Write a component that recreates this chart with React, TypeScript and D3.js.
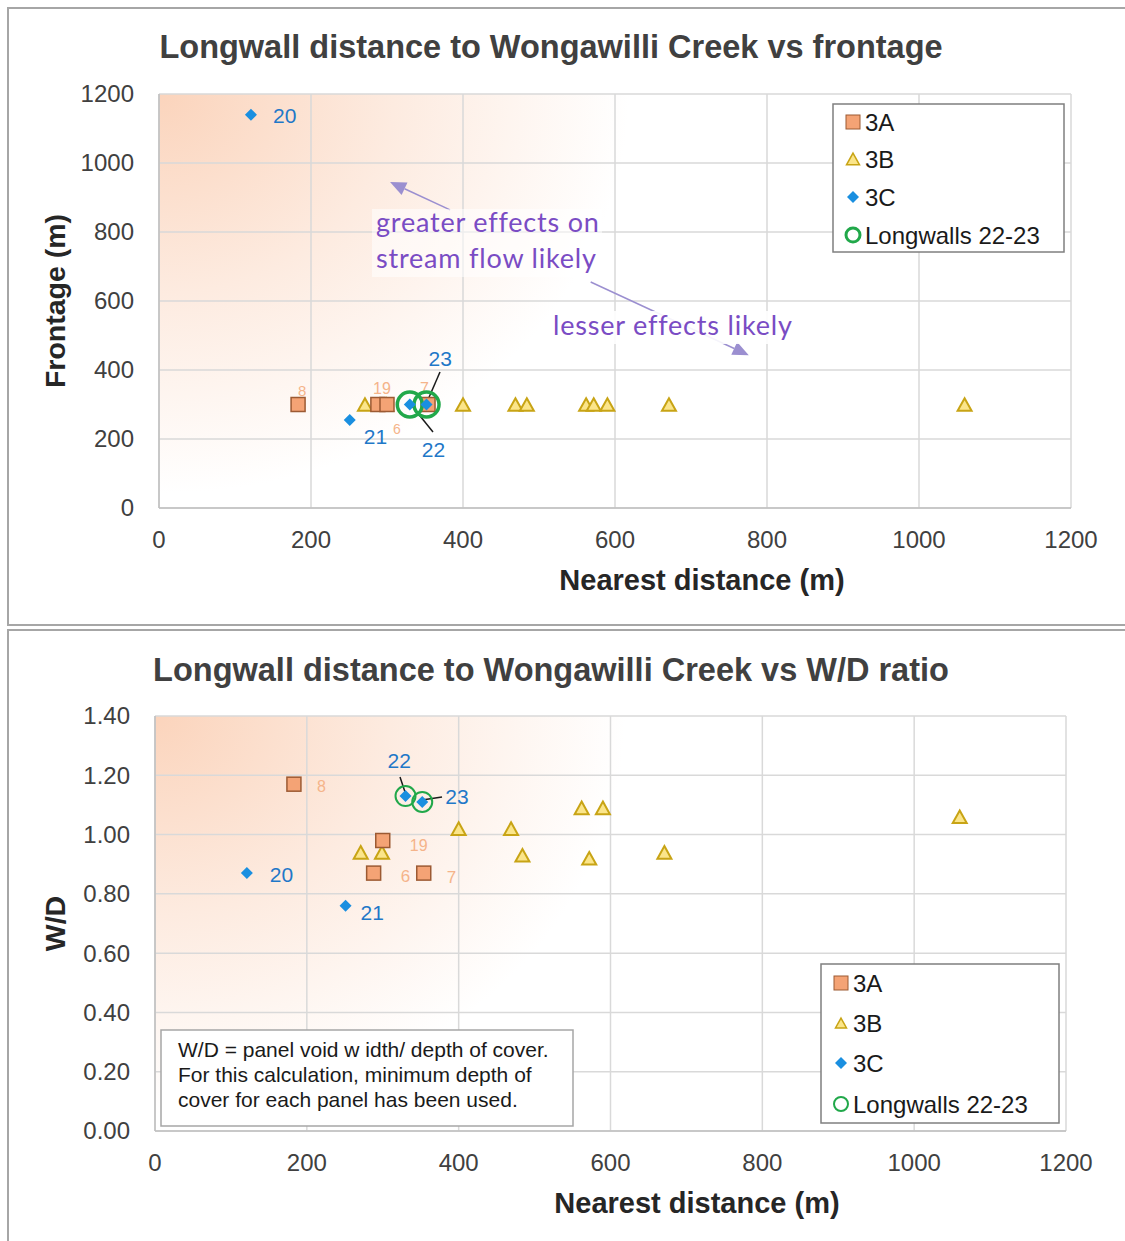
import * as d3 from "d3";

// ---- data ----
const ids3A = ["8", "6", "19", "7"];
const distance3A = [183, 288, 300, 354];
const frontage3A = [300, 300, 300, 300];
const wd3A = [1.17, 0.87, 0.98, 0.87];

const distance3B = [271, 299, 400, 469, 484, 562, 572, 590, 671, 1060];
const frontage3B = [300, 300, 300, 300, 300, 300, 300, 300, 300, 300];
const wd3B = [0.94, 0.94, 1.02, 1.02, 0.93, 1.09, 0.92, 1.09, 0.94, 1.06];

const ids3C = ["20", "21", "22", "23"];
const distance3C = [121, 251, 330, 352];
const frontage3C = [1140, 255, 300, 300];
const wd3C = [0.87, 0.76, 1.13, 1.11];

// longwalls 22-23 highlighted
const highlightIds = ["22", "23"];

const xTicks = [0, 200, 400, 600, 800, 1000, 1200];
const frontageTicks = [0, 200, 400, 600, 800, 1000, 1200];
const wdTicks = [0, 0.2, 0.4, 0.6, 0.8, 1.0, 1.2, 1.4];

const legendLabels = ["3A", "3B", "3C", "Longwalls 22-23"];
const noteLines = [
  "W/D = panel void w idth/ depth of cover.",
  "For this calculation, minimum depth of",
  "cover for each panel has been used.",
];

const C_3A_FILL = "#f4a375";
const C_3A_STROKE = "#9c5a33";
const C_3A_LABEL = "#f5b48a";
const C_3B_FILL = "#fbe58a";
const C_3B_STROKE = "#c8a415";
const C_3C = "#1a8fe0";
const C_3C_LABEL = "#1f78c8";
const C_RING = "#21a84a";
const PURPLE = "#7a4cc4";
const FONT = "'Liberation Sans', Arial, sans-serif";
const NOTE_FONT = "Lato, 'Open Sans', sans-serif";

type Label = { dx: number; dy: number; size?: number };

interface ChartProps {
  top: number;
  title: string;
  titleY: number;
  yTitle: string;
  xTitleX: number;
  plot: { left: number; right: number; top: number; bottom: number };
  yDomain: [number, number];
  yTicks: number[];
  yFormat: (v: number) => string;
  y3A: number[];
  y3B: number[];
  y3C: number[];
  labels3A: Label[];
  labels3C: Label[];
  leaders: { id: string; x1: number; y1: number; x2: number; y2: number }[];
  ringR: number;
  ringW: number;
  legend: { x: number; y: number; w: number; h: number; rowY: number[]; small: boolean };
  children?: (x: d3.ScaleLinear<number, number>, y: d3.ScaleLinear<number, number>) => any;
  gid: string;
}

function triangle(cx: number, cy: number, s: number) {
  const h = s * 0.9;
  return `M${cx},${cy - h / 2}L${cx + s / 2},${cy + h / 2}L${cx - s / 2},${cy + h / 2}Z`;
}

function diamond(cx: number, cy: number, r: number) {
  return `M${cx},${cy - r}L${cx + r},${cy}L${cx},${cy + r}L${cx - r},${cy}Z`;
}

function Chart(p: ChartProps) {
  const x = d3.scaleLinear().domain([0, 1200]).range([p.plot.left, p.plot.right]);
  const y = d3.scaleLinear().domain(p.yDomain).range([p.plot.bottom, p.plot.top]);
  const W = p.plot.right - p.plot.left;
  const H = p.plot.bottom - p.plot.top;
  const lg = p.legend;

  return (
    <g>
      <defs>
        <radialGradient id={p.gid} gradientUnits="userSpaceOnUse" cx={p.plot.left} cy={p.plot.top} r={470}
          gradientTransform={`translate(${p.plot.left},${p.plot.top}) scale(1,0.85) translate(${-p.plot.left},${-p.plot.top})`}>
          <stop offset="0" stopColor="#fbd4bc" />
          <stop offset="0.5" stopColor="#fdebe0" />
          <stop offset="1" stopColor="#ffffff" />
        </radialGradient>
      </defs>
      <rect x={p.plot.left} y={p.plot.top} width={W} height={H} fill={`url(#${p.gid})`} />

      {/* grid */}
      {p.yTicks.map((t) => (
        <line key={"h" + t} x1={p.plot.left} x2={p.plot.right} y1={y(t)} y2={y(t)} stroke="#d9d9d9" strokeWidth={1.5} />
      ))}
      {xTicks.map((t) => (
        <line key={"v" + t} x1={x(t)} x2={x(t)} y1={p.plot.top} y2={p.plot.bottom} stroke="#d9d9d9" strokeWidth={1.5} />
      ))}
      <line x1={p.plot.left} x2={p.plot.left} y1={p.plot.top} y2={p.plot.bottom} stroke="#bfbfbf" strokeWidth={1.5} />
      <line x1={p.plot.left} x2={p.plot.right} y1={p.plot.bottom} y2={p.plot.bottom} stroke="#bfbfbf" strokeWidth={1.5} />

      {/* tick labels */}
      {p.yTicks.map((t) => (
        <text key={"yl" + t} x={p.plot.left - 25} y={y(t)} dy="0.35em" textAnchor="end" fontSize={24} fill="#404040" fontFamily={FONT}>
          {p.yFormat(t)}
        </text>
      ))}
      {xTicks.map((t) => (
        <text key={"xl" + t} x={x(t)} y={p.plot.bottom + 32} dy="0.35em" textAnchor="middle" fontSize={24} fill="#404040" fontFamily={FONT}>
          {t}
        </text>
      ))}

      {/* titles */}
      <text x={551} y={p.titleY} textAnchor="middle" fontSize={32.5} fontWeight="bold" fill="#404040" fontFamily={FONT}>
        {p.title}
      </text>
      <text x={p.xTitleX} y={p.plot.bottom + 82} textAnchor="middle" fontSize={29} fontWeight="bold" fill="#262626" fontFamily={FONT}>
        Nearest distance (m)
      </text>
      <text transform={`translate(65,${(p.plot.top + p.plot.bottom) / 2}) rotate(-90)`} textAnchor="middle" fontSize={28.5} fontWeight="bold" fill="#262626" fontFamily={FONT}>
        {p.yTitle}
      </text>

      {p.children && p.children(x, y)}

      {/* leaders */}
      {p.leaders.map((l) => (
        <line key={"ld" + l.id} x1={l.x1} y1={l.y1} x2={l.x2} y2={l.y2} stroke="#1a1a1a" strokeWidth={1.5} />
      ))}

      {/* 3B */}
      {distance3B.map((d, i) => (
        <path key={"b" + i} d={triangle(x(d), y(p.y3B[i]), 14)} fill={C_3B_FILL} stroke={C_3B_STROKE} strokeWidth={2} />
      ))}
      {/* 3A */}
      {distance3A.map((d, i) => (
        <g key={"a" + i}>
          <rect x={x(d) - 7} y={y(p.y3A[i]) - 7} width={14} height={14} fill={C_3A_FILL} stroke={C_3A_STROKE} strokeWidth={1.5} />
          <text x={x(d) + p.labels3A[i].dx} y={y(p.y3A[i]) + p.labels3A[i].dy} fontSize={p.labels3A[i].size ?? 16} fill={C_3A_LABEL} fontFamily={FONT}>
            {ids3A[i]}
          </text>
        </g>
      ))}
      {/* rings for longwalls 22-23 */}
      {ids3C.map((id, i) =>
        highlightIds.includes(id) ? (
          <circle key={"r" + id} cx={x(distance3C[i])} cy={y(p.y3C[i])} r={p.ringR} fill="none" stroke={C_RING} strokeWidth={p.ringW} />
        ) : null
      )}
      {/* 3C */}
      {distance3C.map((d, i) => (
        <g key={"c" + i}>
          <path d={diamond(x(d), y(p.y3C[i]), 6)} fill={C_3C} />
          <text x={x(d) + p.labels3C[i].dx} y={y(p.y3C[i]) + p.labels3C[i].dy} fontSize={21} fill={C_3C_LABEL} fontFamily={FONT}>
            {ids3C[i]}
          </text>
        </g>
      ))}

      {/* legend */}
      <rect x={lg.x} y={lg.y} width={lg.w} height={lg.h} fill="#ffffff" stroke="#7f7f7f" strokeWidth={1.5} />
      {legendLabels.map((lab, i) => {
        const cy = lg.rowY[i];
        const cx = lg.x + 20;
        let mark;
        if (i === 0)
          mark = <rect x={cx - 7} y={cy - 7} width={14} height={14} fill={C_3A_FILL} stroke={C_3A_STROKE} strokeWidth={1} />;
        else if (i === 1) mark = <path d={triangle(cx, cy, lg.small ? 11 : 13)} fill={C_3B_FILL} stroke={C_3B_STROKE} strokeWidth={1.5} />;
        else if (i === 2) mark = <path d={diamond(cx, cy, 6)} fill={C_3C} />;
        else mark = <circle cx={cx} cy={cy} r={7} fill="none" stroke={C_RING} strokeWidth={lg.small ? 2 : 3} />;
        return (
          <g key={"lg" + i}>
            {mark}
            <text x={cx + 12} y={cy} dy="0.36em" fontSize={24} fill="#1a1a1a" fontFamily={FONT}>
              {lab}
            </text>
          </g>
        );
      })}
    </g>
  );
}

export default function App() {
  const topPlot = { left: 159, right: 1071, top: 94, bottom: 508 };
  const botPlot = { left: 155, right: 1066, top: 716, bottom: 1131 };
  return (
    <svg width={1125} height={1241} style={{ display: "block", position: "absolute", left: 0, top: 0, background: "#fff" }}>
      <rect x={8} y={8} width={1120} height={617} fill="#fff" stroke="#a6a6a6" strokeWidth={2} />
      <rect x={8} y={630} width={1120} height={612} fill="#fff" stroke="#a6a6a6" strokeWidth={2} />

      <Chart
        gid="g1"
        top={8}
        title="Longwall distance to Wongawilli Creek vs frontage"
        titleY={58}
        yTitle="Frontage (m)"
        xTitleX={702}
        plot={topPlot}
        yDomain={[0, 1200]}
        yTicks={frontageTicks}
        yFormat={(v) => d3.format("d")(v)}
        y3A={frontage3A}
        y3B={frontage3B}
        y3C={frontage3C}
        labels3A={[
          { dx: 0, dy: -9, size: 15 },
          { dx: 15, dy: 29, size: 14 },
          { dx: -14, dy: -11, size: 16 },
          { dx: -8, dy: -11, size: 16 },
        ]}
        labels3C={[
          { dx: 22, dy: 8 },
          { dx: 14, dy: 24 },
          { dx: 12, dy: 52 },
          { dx: 2, dy: -39 },
        ]}
        leaders={[
          { id: "22", x1: 433, y1: 432, x2: 412, y2: 406 },
          { id: "23", x1: 440, y1: 372, x2: 427, y2: 402 },
        ]}
        ringR={12.5}
        ringW={3.5}
        legend={{ x: 833, y: 104, w: 231, h: 148, rowY: [122, 159, 197, 235], small: false }}
        children={(x, y) => {
          const arrow = (x1: number, y1: number, x2: number, y2: number, k: string) => {
            const a = Math.atan2(y(y2) - y(y1), x(x2) - x(x1));
            const px = x(x2), py = y(y2);
            const L = 16, Wd = 7;
            const bx = px - L * Math.cos(a), by = py - L * Math.sin(a);
            return (
              <g key={k}>
                <line x1={x(x1)} y1={y(y1)} x2={bx} y2={by} stroke="#9b8fd0" strokeWidth={1.5} />
                <path d={`M${px},${py}L${bx + Wd * Math.sin(a)},${by - Wd * Math.cos(a)}L${bx - Wd * Math.sin(a)},${by + Wd * Math.cos(a)}Z`} fill="#9b8fd0" />
              </g>
            );
          };
          return (
            <g>
              {arrow(383, 864, 304, 945, "a1")}
              {arrow(568, 655, 776, 443, "a2")}
              <rect x={372} y={209} width={230} height={68} fill="#ffffff" opacity={0.55} />
              <rect x={549} y={311} width={246} height={33} fill="#ffffff" opacity={0.9} />
              <text x={376} y={232} fontSize={27} letterSpacing={0.8} fill={PURPLE} fontFamily={NOTE_FONT}>greater effects on</text>
              <text x={376} y={268} fontSize={27} letterSpacing={0.8} fill={PURPLE} fontFamily={NOTE_FONT}>stream flow likely</text>
              <text x={553} y={335} fontSize={27} letterSpacing={0.8} fill={PURPLE} fontFamily={NOTE_FONT}>lesser effects likely</text>
            </g>
          );
        }}
      />

      <Chart
        gid="g2"
        top={630}
        title="Longwall distance to Wongawilli Creek vs W/D ratio"
        titleY={681}
        yTitle="W/D"
        xTitleX={697}
        plot={botPlot}
        yDomain={[0, 1.4]}
        yTicks={wdTicks}
        yFormat={(v) => d3.format(".2f")(v)}
        y3A={wd3A}
        y3B={wd3B}
        y3C={wd3C}
        labels3A={[
          { dx: 23, dy: 8, size: 16 },
          { dx: 27, dy: 9, size: 17 },
          { dx: 27, dy: 10, size: 16 },
          { dx: 23, dy: 10, size: 17 },
        ]}
        labels3C={[
          { dx: 23, dy: 9 },
          { dx: 15, dy: 14 },
          { dx: -18, dy: -28 },
          { dx: 23, dy: 2 },
        ]}
        leaders={[
          { id: "22", x1: 400, y1: 777, x2: 406, y2: 795 },
          { id: "23", x1: 442, y1: 797, x2: 422, y2: 800 },
        ]}
        ringR={10}
        ringW={2}
        legend={{ x: 821, y: 964, w: 238, h: 159, rowY: [983, 1023, 1063, 1104], small: true }}
        children={() => (
          <g>
            <rect x={161} y={1030} width={412} height={96} fill="#ffffff" stroke="#a6a6a6" strokeWidth={1.5} />
            {noteLines.map((t, i) => (
              <text key={i} x={178} y={1057 + i * 25} fontSize={21} fill="#1a1a1a" fontFamily={FONT}>
                {t}
              </text>
            ))}
          </g>
        )}
      />
    </svg>
  );
}
